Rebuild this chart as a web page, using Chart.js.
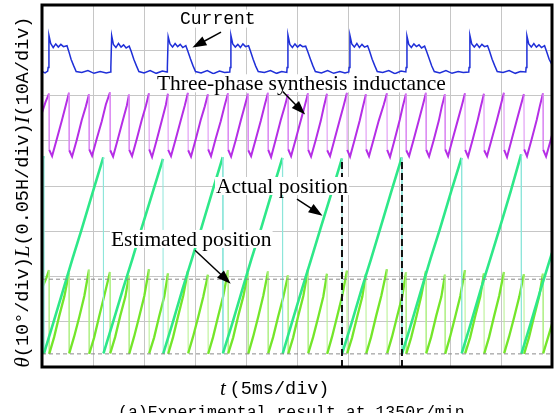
<!DOCTYPE html>
<html>
<head>
<meta charset="utf-8">
<script src="https://cdn.jsdelivr.net/npm/chart.js@4.4.1/dist/chart.umd.min.js"></script>
<style>
  html, body { margin: 0; padding: 0; background: #fff; overflow: hidden; }
  canvas { display: block; }
</style>
</head>
<body>
<canvas id="scope" width="559" height="413"></canvas>
<script>
// time in ms (5 ms/div, 10 div), values in scope divisions (8 div)

// phase current I
const currentT = [0, 0.3, 0.56,
  0.60, 0.68, 0.85, 1.10, 1.35, 1.60, 1.85, 2.10, 2.45, 2.62, 2.85, 3.10, 3.35, 3.9, 4.5, 5.1, 5.7, 6.3, 6.72,
  6.75, 6.83, 7.00, 7.25, 7.50, 7.75, 8.00, 8.25, 8.55, 8.75, 9.00, 9.25, 9.50, 10.0, 10.6, 11.2, 11.8, 12.26,
  12.29, 12.37, 12.55, 12.80, 13.05, 13.30, 13.55, 13.80, 14.10, 14.30, 14.55, 14.80, 15.05, 15.6, 16.2, 16.8, 17.4, 17.9, 18.41,
  18.44, 18.52, 18.70, 18.95, 19.20, 19.45, 19.70, 19.95, 20.25, 20.45, 20.70, 20.95, 21.20, 21.8, 22.4, 23.0, 23.5, 24.00,
  24.03, 24.11, 24.30, 24.55, 24.80, 25.05, 25.30, 25.55, 25.85, 26.05, 26.30, 26.55, 26.80, 27.4, 28.0, 28.6, 29.2, 29.7, 30.08,
  30.11, 30.19, 30.37, 30.62, 30.87, 31.12, 31.37, 31.62, 31.92, 32.12, 32.37, 32.62, 32.87, 33.4, 34.0, 34.6, 35.2, 35.67,
  35.70, 35.78, 35.96, 36.21, 36.46, 36.71, 36.96, 37.21, 37.51, 37.71, 37.96, 38.21, 38.46, 39.0, 39.6, 40.2, 40.8, 41.3, 41.84,
  41.87, 41.95, 42.13, 42.38, 42.63, 42.88, 43.13, 43.38, 43.68, 43.88, 44.13, 44.38, 44.63, 45.2, 45.8, 46.4, 46.9, 47.43,
  47.46, 47.54, 47.72, 47.97, 48.22, 48.47, 48.72, 48.97, 49.27, 49.47, 49.72, 50.0];
const currentV = [6.53, 6.50, 6.54,
  6.62, 7.33, 7.15, 7.06, 7.14, 7.07, 7.13, 7.08, 7.10, 6.98, 6.80, 6.66, 6.53, 6.51, 6.55, 6.49, 6.53, 6.50, 6.52,
  6.62, 7.32, 7.13, 7.06, 7.15, 7.07, 7.12, 7.05, 7.09, 6.97, 6.80, 6.66, 6.53, 6.50, 6.55, 6.49, 6.54, 6.52,
  6.62, 7.30, 7.14, 7.07, 7.15, 7.08, 7.13, 7.06, 7.10, 6.98, 6.81, 6.66, 6.53, 6.50, 6.55, 6.48, 6.54, 6.51, 6.52,
  6.62, 7.33, 7.14, 7.07, 7.13, 7.06, 7.14, 7.08, 7.10, 6.97, 6.80, 6.65, 6.53, 6.51, 6.55, 6.49, 6.53, 6.51,
  6.62, 7.34, 7.13, 7.06, 7.14, 7.07, 7.12, 7.08, 7.09, 6.97, 6.81, 6.66, 6.53, 6.50, 6.55, 6.49, 6.53, 6.50, 6.52,
  6.62, 7.33, 7.14, 7.07, 7.15, 7.06, 7.13, 7.07, 7.10, 6.98, 6.80, 6.66, 6.53, 6.51, 6.55, 6.48, 6.54, 6.52,
  6.62, 7.31, 7.13, 7.06, 7.14, 7.08, 7.12, 7.05, 7.09, 6.97, 6.81, 6.65, 6.53, 6.50, 6.55, 6.49, 6.53, 6.51, 6.52,
  6.62, 7.33, 7.14, 7.07, 7.14, 7.06, 7.13, 7.08, 7.10, 6.98, 6.80, 6.66, 6.53, 6.51, 6.55, 6.49, 6.53, 6.52,
  6.62, 7.32, 7.14, 7.07, 7.15, 7.07, 7.12, 7.06, 7.10, 6.97, 6.80, 6.68];

// three-phase synthesis inductance L
const inductT = [0, 0.35,
  0.69, 0.71, 0.99, 1.44, 1.94, 2.34,
  2.65, 2.67, 2.95, 3.40, 3.90, 4.30,
  4.61, 4.63, 4.91, 5.36, 5.86, 6.26,
  6.67, 6.69, 6.97, 7.42, 7.92, 8.32,
  8.53, 8.55, 8.83, 9.28, 9.78, 10.18,
  10.49, 10.51, 10.79, 11.24, 11.74, 12.14,
  12.35, 12.37, 12.65, 13.10, 13.60, 14.00,
  14.31, 14.33, 14.61, 15.06, 15.56, 15.96,
  16.27, 16.29, 16.57, 17.02, 17.52, 17.92,
  18.24, 18.26, 18.54, 18.99, 19.49, 19.89,
  20.20, 20.22, 20.50, 20.95, 21.45, 21.85,
  22.16, 22.18, 22.46, 22.91, 23.41, 23.81,
  24.12, 24.14, 24.42, 24.87, 25.37, 25.77,
  26.08, 26.10, 26.38, 26.83, 27.33, 27.63,
  27.94, 27.96, 28.24, 28.69, 29.19, 29.59,
  29.90, 29.92, 30.20, 30.65, 31.15, 31.45,
  31.76, 31.78, 32.06, 32.51, 33.01, 33.51,
  33.82, 33.84, 34.12, 34.57, 35.07, 35.38,
  35.69, 35.71, 35.99, 36.44, 36.94, 37.34,
  37.65, 37.67, 37.95, 38.40, 38.90, 39.20,
  39.51, 39.53, 39.81, 40.26, 40.76, 41.16,
  41.47, 41.49, 41.77, 42.22, 42.72, 43.02,
  43.33, 43.35, 43.63, 44.08, 44.58, 44.98,
  45.29, 45.31, 45.59, 46.04, 46.54, 46.94,
  47.25, 47.27, 47.55, 48.00, 48.50, 48.80,
  49.12, 49.14, 49.42, 49.87, 50.00];
const inductV = [5.62, 5.86,
  6.04, 4.80, 4.66, 5.03, 5.44, 5.79,
  6.06, 4.79, 4.65, 5.01, 5.46, 5.76,
  6.03, 4.81, 4.67, 5.04, 5.43, 5.80,
  6.07, 4.79, 4.65, 5.02, 5.45, 5.78,
  6.02, 4.80, 4.66, 5.03, 5.46, 5.77,
  6.05, 4.81, 4.64, 5.01, 5.44, 5.79,
  6.04, 4.80, 4.66, 5.03, 5.45, 5.78,
  6.06, 4.79, 4.65, 5.02, 5.46, 5.76,
  6.03, 4.81, 4.66, 5.04, 5.43, 5.79,
  6.05, 4.80, 4.65, 5.01, 5.45, 5.78,
  6.04, 4.79, 4.66, 5.03, 5.44, 5.80,
  6.06, 4.80, 4.64, 5.02, 5.46, 5.77,
  6.03, 4.81, 4.66, 5.03, 5.45, 5.78,
  6.05, 4.80, 4.65, 5.01, 5.44, 5.75,
  6.04, 4.79, 4.66, 5.04, 5.46, 5.79,
  6.06, 4.80, 4.65, 5.02, 5.45, 5.74,
  6.03, 4.81, 4.66, 5.03, 5.44, 5.80,
  6.05, 4.80, 4.64, 5.02, 5.46, 5.77,
  6.04, 4.79, 4.66, 5.03, 5.45, 5.79,
  6.06, 4.80, 4.65, 5.01, 5.44, 5.76,
  6.03, 4.81, 4.66, 5.04, 5.45, 5.78,
  6.05, 4.80, 4.65, 5.02, 5.46, 5.75,
  6.04, 4.79, 4.66, 5.03, 5.44, 5.79,
  6.06, 4.80, 4.64, 5.02, 5.45, 5.78,
  6.03, 4.81, 4.66, 5.03, 5.46, 5.76,
  6.05, 4.80, 4.65, 5.01, 5.12];

// actual rotor position
const actualT = [0, 0.16,
  0.18, 1.1, 2.1, 3.0, 3.9, 5.0, 6.01,
  6.03, 6.95, 7.95, 8.85, 9.75, 10.85, 11.86,
  11.88, 12.8, 13.8, 14.7, 15.6, 16.7, 17.72,
  17.74, 18.65, 19.65, 20.55, 21.45, 22.55, 23.57,
  23.59, 24.5, 25.5, 26.4, 27.3, 28.4, 29.41,
  29.43, 30.35, 31.35, 32.25, 33.15, 34.25, 35.27,
  35.29, 36.2, 37.2, 38.1, 39.0, 40.1, 41.13,
  41.15, 42.05, 43.05, 43.95, 44.85, 45.95, 46.98,
  47.00, 47.9, 48.9, 49.8, 50.0];
const actualV = [4.55, 4.66,
  0.29, 0.97, 1.72, 2.40, 3.05, 3.88, 4.63,
  0.30, 0.98, 1.73, 2.38, 3.06, 3.86, 4.60,
  0.29, 0.97, 1.74, 2.39, 3.05, 3.88, 4.64,
  0.30, 0.96, 1.72, 2.40, 3.04, 3.87, 4.62,
  0.29, 0.98, 1.73, 2.39, 3.06, 3.86, 4.61,
  0.30, 0.97, 1.73, 2.38, 3.05, 3.88, 4.63,
  0.29, 0.96, 1.72, 2.40, 3.04, 3.87, 4.62,
  0.30, 0.97, 1.74, 2.39, 3.05, 3.88, 4.70,
  0.29, 0.96, 1.72, 2.38, 2.52];

// estimated rotor position
const estT = [0, 0.45,
  0.69, 0.71, 1.19, 1.69, 2.19,
  2.65, 2.67, 3.15, 3.65, 4.15,
  4.61, 4.63, 5.11, 5.61, 6.11,
  6.67, 6.69, 7.17, 7.67, 8.17,
  8.53, 8.55, 9.03, 9.53, 10.03,
  10.49, 10.51, 10.99, 11.49, 11.99,
  12.35, 12.37, 12.85, 13.35, 13.85,
  14.31, 14.33, 14.81, 15.31, 15.81,
  16.27, 16.29, 16.77, 17.27, 17.77,
  18.24, 18.26, 18.74, 19.24, 19.74,
  20.20, 20.22, 20.70, 21.20, 21.70,
  22.16, 22.18, 22.66, 23.16, 23.66,
  24.12, 24.14, 24.62, 25.12, 25.62,
  26.08, 26.10, 26.58, 27.08, 27.58,
  27.94, 27.96, 28.44, 28.94, 29.44,
  29.90, 29.92, 30.40, 30.90, 31.40,
  31.76, 31.78, 32.26, 32.76, 33.26,
  33.82, 33.84, 34.32, 34.82, 35.32,
  35.69, 35.71, 36.19, 36.69, 37.19,
  37.65, 37.67, 38.15, 38.65, 39.15,
  39.51, 39.53, 40.01, 40.51, 41.01,
  41.47, 41.49, 41.97, 42.47, 42.97,
  43.33, 43.35, 43.83, 44.33, 44.83,
  45.29, 45.31, 45.79, 46.29, 46.79,
  47.25, 47.27, 47.75, 48.25, 48.75,
  49.12, 49.14, 49.62, 50.00];
const estV = [1.74, 1.98,
  2.14, 0.29, 0.66, 1.13, 1.56,
  2.08, 0.30, 0.67, 1.10, 1.57,
  2.15, 0.29, 0.65, 1.12, 1.58,
  2.10, 0.30, 0.66, 1.13, 1.55,
  2.02, 0.29, 0.67, 1.11, 1.57,
  2.16, 0.30, 0.65, 1.12, 1.56,
  2.07, 0.29, 0.66, 1.13, 1.58,
  2.12, 0.30, 0.67, 1.10, 1.55,
  2.04, 0.29, 0.66, 1.12, 1.57,
  2.14, 0.30, 0.65, 1.13, 1.56,
  2.08, 0.29, 0.67, 1.11, 1.58,
  2.11, 0.30, 0.66, 1.12, 1.55,
  2.03, 0.29, 0.65, 1.13, 1.57,
  2.15, 0.30, 0.66, 1.10, 1.56,
  2.06, 0.29, 0.67, 1.12, 1.58,
  2.13, 0.30, 0.65, 1.11, 1.55,
  2.05, 0.29, 0.66, 1.13, 1.57,
  2.16, 0.30, 0.67, 1.12, 1.56,
  2.09, 0.29, 0.65, 1.10, 1.58,
  2.12, 0.30, 0.66, 1.13, 1.55,
  2.04, 0.29, 0.67, 1.11, 1.57,
  2.14, 0.30, 0.65, 1.12, 1.56,
  2.07, 0.29, 0.66, 1.13, 1.58,
  2.10, 0.30, 0.67, 1.10, 1.55,
  2.05, 0.29, 0.66, 1.12, 1.57,
  2.06, 0.30, 0.66, 0.95];

// reference marks: horizontal dashed levels and vertical dashed cursors
const levelY = [1.94, 0.29];
const cursorX = [29.41, 35.29];
const cursorTop = 4.6;

const yLabelParts = [['θ', true], ['(10°/div)', false], ['L', true], ['(0.05H/div)', false], ['I', true], ['(10A/div)', false]];
const xLabelParts = [['t', true], ['\u2009(5ms/div)', false]];
const caption = '(a)Experimental result at 1350r/min';

// callouts: text anchor and arrow in data units
const notes = [
  {text: 'Current', mono: true, x: 13.53, y: 7.70, from: [17.55, 7.40], to: [14.75, 7.06]},
  {text: 'Three-phase synthesis inductance', x: 11.27, y: 6.27, from: [23.6, 6.09], to: [25.8, 5.58]},
  {text: 'Actual position', x: 17.06, y: 4.00, from: [25.0, 3.71], to: [27.5, 3.34]},
  {text: 'Estimated position', x: 6.76, y: 2.83, from: [15.0, 2.58], to: [18.5, 1.84]}
];

const pts = (t, v) => t.map((x, i) => ({x, y: v[i]}));
const isDrop = c => c.p1.parsed.y < c.p0.parsed.y - 0.4;

const SERIF = '"Liberation Serif", "Times New Roman", serif';
const MONO = '"Liberation Mono", "DejaVu Sans Mono", monospace';

function arrow(ctx, x0, y0, x1, y1) {
  const a = Math.atan2(y1 - y0, x1 - x0), len = 14, hw = 5;
  ctx.strokeStyle = '#000';
  ctx.lineWidth = 1.5;
  ctx.beginPath();
  ctx.moveTo(x0, y0);
  ctx.lineTo(x1 - Math.cos(a) * len * 0.8, y1 - Math.sin(a) * len * 0.8);
  ctx.stroke();
  ctx.fillStyle = '#000';
  ctx.beginPath();
  ctx.moveTo(x1, y1);
  ctx.lineTo(x1 - Math.cos(a) * len - Math.sin(a) * hw, y1 - Math.sin(a) * len + Math.cos(a) * hw);
  ctx.lineTo(x1 - Math.cos(a) * len + Math.sin(a) * hw, y1 - Math.sin(a) * len - Math.cos(a) * hw);
  ctx.closePath();
  ctx.fill();
}

function drawParts(ctx, parts, startX, y) {
  let cx = startX;
  parts.forEach(([s, it]) => {
    ctx.font = it ? 'italic 21px ' + SERIF : '18.5px ' + MONO;
    ctx.fillText(s, cx, y);
    cx += ctx.measureText(s).width;
  });
  return cx - startX;
}

const overlay = {
  id: 'overlay',
  afterDraw(chart) {
    const {ctx, chartArea: a, scales: {x, y}} = chart;
    ctx.save();
    ctx.textBaseline = 'middle';
    notes.forEach(n => {
      ctx.font = n.mono ? '18px ' + MONO : '21.5px ' + SERIF;
      const px = x.getPixelForValue(n.x), py = y.getPixelForValue(n.y);
      const w = ctx.measureText(n.text).width;
      ctx.fillStyle = '#fff';
      ctx.fillRect(px - 1, py - 9, w + 2, 18);
      ctx.fillStyle = '#000';
      ctx.fillText(n.text, px, py + 1);
      arrow(ctx, x.getPixelForValue(n.from[0]), y.getPixelForValue(n.from[1]),
        x.getPixelForValue(n.to[0]), y.getPixelForValue(n.to[1]));
    });

    ctx.strokeStyle = '#000';
    ctx.lineWidth = 3;
    ctx.strokeRect(a.left, a.top, a.right - a.left, a.bottom - a.top);

    ctx.fillStyle = '#000';
    // y label, rotated
    ctx.save();
    ctx.translate(23, 192);
    ctx.rotate(-Math.PI / 2);
    ctx.globalAlpha = 0;
    const total = drawParts(ctx, yLabelParts, 0, 0);
    ctx.globalAlpha = 1;
    drawParts(ctx, yLabelParts, -total / 2, 0);
    ctx.restore();

    // x label
    drawParts(ctx, xLabelParts, 220, 389);

    ctx.font = '16.5px ' + MONO;
    ctx.textBaseline = 'top';
    ctx.fillText(caption, 118, 404);
    ctx.restore();
  }
};

new Chart(document.getElementById('scope'), {
  type: 'line',
  data: {
    datasets: [
      {
        label: 'Estimated position',
        data: pts(estT, estV),
        borderColor: '#74e62a',
        borderWidth: 2.3,
        segment: {
          borderColor: c => isDrop(c) ? '#b4f08c' : undefined,
          borderWidth: c => isDrop(c) ? 1 : undefined
        },
        order: 6
      },
      {
        label: 'Actual position',
        data: pts(actualT, actualV),
        borderColor: '#2ee889',
        borderWidth: 2.6,
        segment: {
          borderColor: c => isDrop(c) ? '#8ee6da' : undefined,
          borderWidth: c => isDrop(c) ? 1 : undefined
        },
        order: 5
      },
      {
        label: 'Inductance',
        data: pts(inductT, inductV),
        borderColor: '#b52ee6',
        borderWidth: 2,
        segment: {
          borderColor: c => isDrop(c) ? '#dc8cf2' : undefined,
          borderWidth: c => isDrop(c) ? 1 : undefined
        },
        order: 4
      },
      {
        label: 'Current',
        data: pts(currentT, currentV),
        borderColor: '#1f2fd8',
        borderWidth: 1.5,
        order: 3
      },
      ...levelY.map(v => ({
        data: [{x: 0, y: v}, {x: 50, y: v}],
        borderColor: '#8a8a8a',
        borderWidth: 1,
        borderDash: [4, 3],
        order: 2
      })),
      ...cursorX.map(v => ({
        data: [{x: v, y: 0}, {x: v, y: cursorTop}],
        borderColor: '#111',
        borderWidth: 2,
        borderDash: [7, 4],
        order: 1
      }))
    ]
  },
  options: {
    responsive: false,
    animation: false,
    events: [],
    layout: {padding: {left: 42, top: 5, right: 7, bottom: 46}},
    elements: {point: {radius: 0}, line: {tension: 0}},
    plugins: {legend: {display: false}, tooltip: {enabled: false}},
    scales: {
      x: {
        type: 'linear', min: 0, max: 50,
        ticks: {display: false, stepSize: 5},
        grid: {color: '#c6c6c6', drawTicks: false},
        border: {display: false}
      },
      y: {
        min: 0, max: 8,
        ticks: {display: false, stepSize: 1},
        grid: {color: '#c6c6c6', drawTicks: false},
        border: {display: false}
      }
    }
  },
  plugins: [overlay]
});
</script>
</body>
</html>
